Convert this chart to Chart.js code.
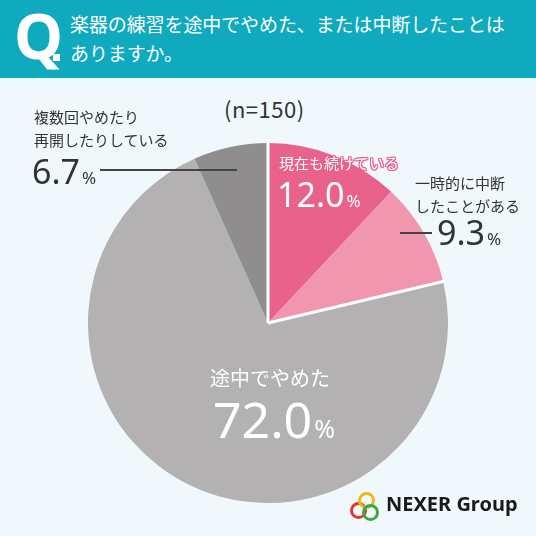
<!DOCTYPE html>
<html lang="ja">
<head>
<meta charset="utf-8">
<script src="https://cdn.jsdelivr.net/npm/chart.js@4.4.0/dist/chart.umd.min.js"></script>
<style>
  html, body { margin: 0; padding: 0; }
  body {
    width: 536px; height: 536px; position: relative; overflow: hidden;
    background: #f0f8fb;
    font-family: "Noto Sans CJK JP", "Noto Sans", sans-serif;
    color: #333;
  }
  #cabecera { position: absolute; left: 0; top: 0; width: 536px; height: 78px; background: #0faabe; }
  #franja { position: absolute; left: 0; top: 78px; width: 536px; height: 12px; background: #eafafd; }
  #q { position: absolute; left: 14px; top: -7px; font: 700 62px "Noto Sans", sans-serif; color: #fff; }
  #punto { position: absolute; left: 53px; top: 54px; width: 7px; height: 7px; background: #fff; }
  #titulo { position: absolute; left: 70px; top: 9px; font-size: 19px; line-height: 29px; color: #fff; letter-spacing: -0.1px; }
  #n { position: absolute; left: 224px; top: 92px; font-size: 22px; color: #333; letter-spacing: 0.5px; }
  #grafico { position: absolute; left: 88px; top: 143px; width: 360px; height: 360px; }
  .etq { position: absolute; font-size: 15px; line-height: 23px; white-space: nowrap; }
  .num { position: absolute; white-space: nowrap; font-family: "Noto Sans", sans-serif; }
  .num small { font-size: 0.5em; margin-left: 2px; }
  .linea { position: absolute; height: 2px; background: #444; }
  #logo { position: absolute; left: 350px; top: 490px; width: 180px; height: 34px; }
  #logo span { position: absolute; left: 36px; top: 0px; font: 700 20px "Noto Sans", sans-serif; color: #1a1a1a; }
  .aro { position: absolute; width: 11px; height: 11px; border-radius: 50%; border: 3px solid; }
  #e0 {
    color: #fff;
    text-shadow: 1px 0 0 #e8608a, -1px 0 0 #e8608a, 0 1px 0 #e8608a, 0 -1px 0 #e8608a,
                 1px 1px 0 #e8608a, -1px -1px 0 #e8608a, 1px -1px 0 #e8608a, -1px 1px 0 #e8608a;
  }
</style>
</head>
<body>
<div id="cabecera"></div>
<div id="franja"></div>
<div id="q">Q</div>
<div id="punto"></div>
<div id="titulo">楽器の練習を途中でやめた、または中断したことは<br>ありますか。</div>
<div id="n">(n=150)</div>
<div id="grafico"><canvas id="graficoPie"></canvas></div>

<!-- etiquetas -->
<div class="etq" id="e0" style="left:279px; top:151px;"></div>
<div class="num" id="v0" style="left:277px; top:171px; font-size:34px; color:#fff;"></div>
<div class="etq" id="e1" style="left:415px; top:171px; color:#333;"></div>
<div class="num" id="v1" style="left:437px; top:209px; font-size:34px; color:#333;"></div>
<div class="linea" style="left:400px; top:232px; width:32px;"></div>
<div class="etq" id="e2" style="left:210px; top:366px; font-size:20px; color:#fff;"></div>
<div class="num" id="v2" style="left:213px; top:385px; font-size:50px; color:#fff;"></div>
<div class="etq" id="e3" style="left:34px; top:105px; color:#333;"></div>
<div class="num" id="v3" style="left:32px; top:148px; font-size:34px; color:#333;"></div>
<div class="linea" style="left:100px; top:169px; width:137px;"></div>

<div id="logo">
  <div class="aro" style="left:0px; top:12px; border-color:#e2362c;"></div>
  <div class="aro" style="left:8px; top:2px; border-color:#f2b51c;"></div>
  <div class="aro" style="left:12px; top:14px; border-color:#3aa843;"></div>
  <span>NEXER Group</span>
</div>

<script>
// Datos del gráfico (porcentajes, n=150)
const categorias = ['現在も続けている', '一時的に中断したことがある', '途中でやめた', '複数回やめたり再開したりしている'];
const etiquetas = ['現在も続けている', '一時的に中断<br>したことがある', '途中でやめた', '複数回やめたり<br>再開したりしている'];
const valores = [12.0, 9.3, 72.0, 6.7];
const colores = ['#e9628b', '#f096ae', '#b3b1b2', '#8f8d8e'];

// Textos de las etiquetas a partir de los arrays
valores.forEach((v, i) => {
    document.getElementById('e' + i).innerHTML = etiquetas[i];
    document.getElementById('v' + i).innerHTML = v.toFixed(1) + '<small>%</small>';
});

// Líneas blancas que separan el bloque rosa
const separadores = {
    id: 'separadores',
    afterDatasetsDraw(chart) {
        const arcos = chart.getDatasetMeta(0).data;
        const ctx = chart.ctx;
        ctx.save();
        ctx.strokeStyle = '#ffffff';
        ctx.lineWidth = 3;
        [arcos[0].startAngle, arcos[1].endAngle].forEach(ang => {
            const a = arcos[0];
            ctx.beginPath();
            ctx.moveTo(a.x, a.y);
            ctx.lineTo(a.x + Math.cos(ang) * (a.outerRadius + 2), a.y + Math.sin(ang) * (a.outerRadius + 2));
            ctx.stroke();
        });
        ctx.restore();
    }
};

const ctx = document.getElementById('graficoPie').getContext('2d');
new Chart(ctx, {
    type: 'pie',
    data: {
        labels: categorias,
        datasets: [{
            data: valores,
            backgroundColor: colores,
            borderWidth: 0,
            hoverOffset: 0
        }]
    },
    options: {
        responsive: true,
        maintainAspectRatio: false,
        animation: false,
        layout: { padding: 0 },
        plugins: {
            legend: { display: false },
            tooltip: { enabled: false }
        }
    },
    plugins: [separadores]
});
</script>
</body>
</html>
